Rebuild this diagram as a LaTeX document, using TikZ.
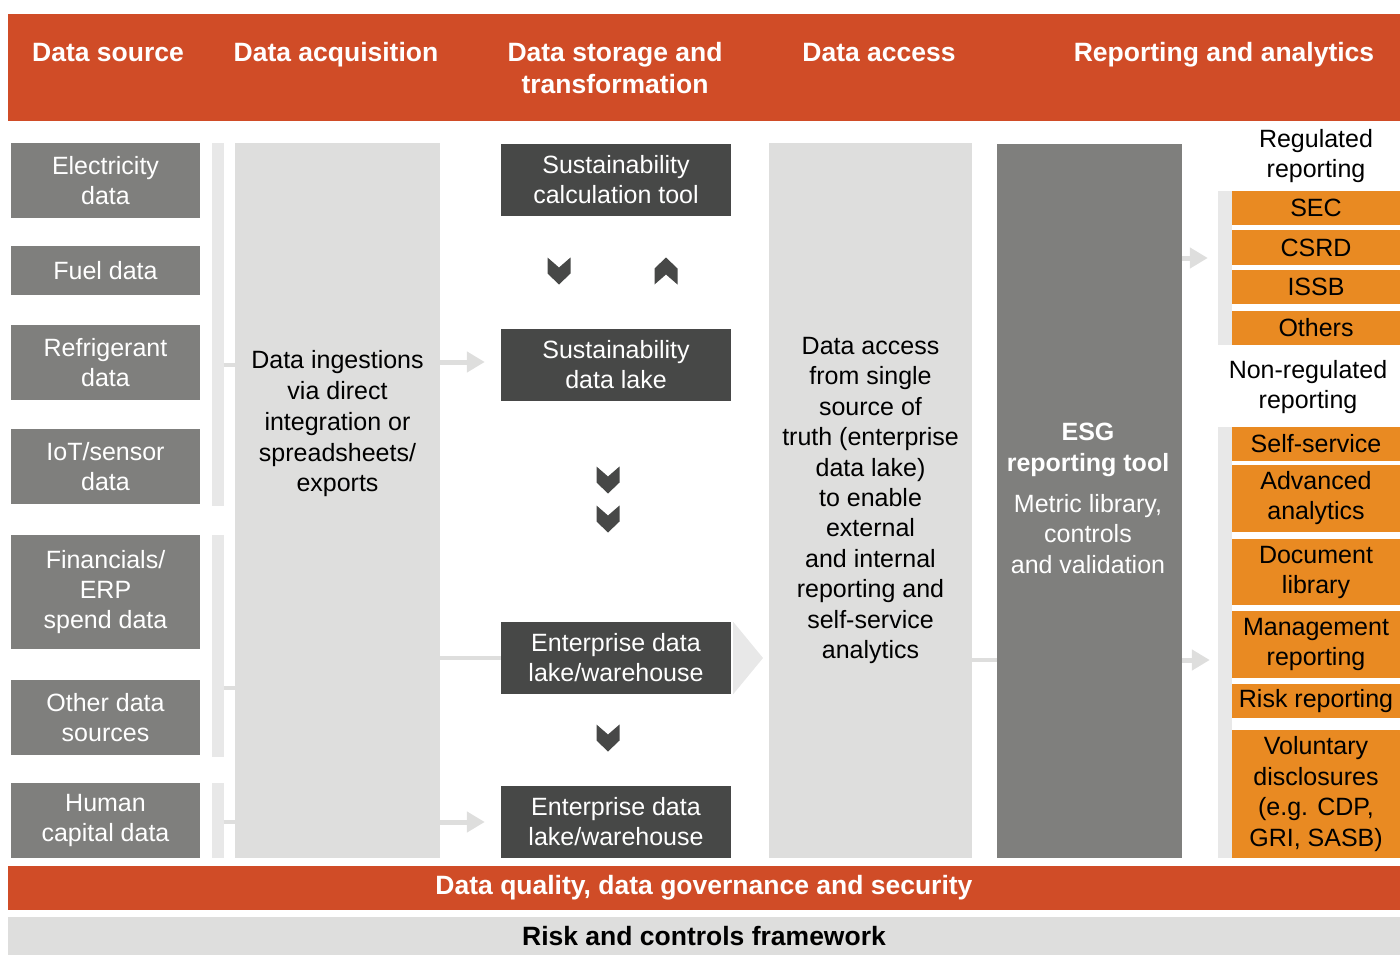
\documentclass[tikz,border=0pt]{standalone}
\usepackage{fontspec}
\setmainfont{Liberation Sans}
\usetikzlibrary{arrows.meta}

\definecolor{hdrred}{HTML}{D04C27}
\definecolor{srcgray}{HTML}{7F7F7D}
\definecolor{panelgray}{HTML}{DEDEDD}
\definecolor{darkbox}{HTML}{474847}
\definecolor{repor}{HTML}{E98A22}
\definecolor{barlight}{HTML}{E8E8E8}

\begin{document}
\begin{tikzpicture}[x=1pt, y=-1pt,
	every node/.style={inner sep=0pt, align=center, font=\fontsize{25}{30}\selectfont},
	head/.style={text=white, font=\fontsize{26.5}{32}\selectfont\bfseries},
	src/.style={fill=srcgray, text=white, minimum width=189pt},
	bar/.style={fill=barlight, minimum width=12pt},
	panel/.style={minimum height=715pt},
	store/.style={fill=darkbox, text=white, minimum width=230pt, minimum height=72pt},
	rep/.style={fill=repor, text=black, minimum width=168pt},
	link/.style={draw=panelgray, line width=4pt},
	arr/.style={draw=panelgray, line width=5pt, -{Triangle[length=18pt, width=20pt]}},
	chev/.style={fill=darkbox}]
	\useasboundingbox (0,0) rectangle (1400,955);

	% column heads
	\fill[hdrred] (8,14) rectangle (1400,121);
	\node[head, anchor=base] (hsrc) at (108,61.5) {Data source};
	\node[head, anchor=base] (hacq) at (336,61.5) {Data acquisition};
	\node[head] (hsto) at (615,68) {Data storage and\\transformation};
	\node[head, anchor=base] (hacc) at (879,61.5) {Data access};
	\node[head, anchor=base] (hrep) at (1224,61.5) {Reporting and analytics};

	% sources
	\node[src, minimum height=75pt] (elec) at (105.5,180.5) {Electricity\\data};
	\node[src, minimum height=49pt] (fuel) at (105.5,270.5) {Fuel data};
	\node[src, minimum height=75pt] (refr) at (105.5,362.5) {Refrigerant\\data};
	\node[src, minimum height=75pt] (iot) at (105.5,466.5) {IoT/sensor\\data};
	\node[src, minimum height=114pt] (fin) at (105.5,592) {Financials/\\ERP\\spend data};
	\node[src, minimum height=75pt] (oth) at (105.5,717.5) {Other data\\sources};
	\node[src, minimum height=75pt] (hum) at (105.5,820.5) {Human\\capital data};
	\node[bar, minimum height=363pt] (bar1) at (217.5,324.5) {};
	\node[bar, minimum height=222pt] (bar2) at (217.5,646) {};
	\node[bar, minimum height=75pt] (bar3) at (217.5,820.5) {};

	% acquisition
	\node[panel, fill=panelgray, minimum width=205pt] (acq) at (337.5,500.5) {};
	\node[font=\fontsize{25}{30.75}\selectfont] (acqtxt) at (337.5,424)
		{Data ingestions\\via direct\\integration or\\spreadsheets/\\exports};

	% storage and transformation
	\node[store] (calc) at (616,180) {Sustainability\\calculation tool};
	\node[store] (lake) at (616,365) {Sustainability\\data lake};
	\node[store] (ent1) at (616,658) {Enterprise data\\lake/warehouse};
	\node[store] (ent2) at (616,822) {Enterprise data\\lake/warehouse};
	\foreach \cx/\cy in {559/271, 608/480, 608/519, 608/738}
		\fill[chev, shift={(\cx,\cy)}] (-11.5,-13.5) -- (0,-3.5) -- (11.5,-13.5) -- (11.5,2.5) -- (0,13.5) -- (-11.5,2.5) -- cycle;
	\fill[chev, shift={(666,271)}, yscale=-1] (-11.5,-13.5) -- (0,-3.5) -- (11.5,-13.5) -- (11.5,2.5) -- (0,13.5) -- (-11.5,2.5) -- cycle;

	% access
	\node[panel, fill=panelgray, minimum width=203pt, font=\fontsize{25}{30.4}\selectfont] (access) at (870.5,500.5)
		{Data access\\from single\\source of\\truth (enterprise\\data lake)\\to enable\\external\\and internal\\reporting and\\self-service\\analytics};

	% ESG tool
	\node[panel, fill=srcgray, minimum width=185pt, minimum height=714pt] (esg) at (1089.5,501) {};
	\node[text=white, font=\fontsize{25}{30.5}\selectfont] (esgtxt) at (1088,498.5)
		{\textbf{ESG}\\\textbf{reporting tool}\\[10.5pt]Metric library,\\controls\\and validation};

	% reporting
	\node (regtxt) at (1316,156) {Regulated\\reporting};
	\node[bar, minimum width=14pt, minimum height=154pt] (regbar) at (1225,268) {};
	\node[rep, minimum height=34pt] (sec) at (1316,208) {SEC};
	\node[rep, minimum height=35pt] (csrd) at (1316,247.5) {CSRD};
	\node[rep, minimum height=34pt] (issb) at (1316,287) {ISSB};
	\node[rep, minimum height=34pt] (others) at (1316,328) {Others};
	\node (nrtxt) at (1308,387) {Non-regulated\\reporting};
	\node[bar, minimum width=14pt, minimum height=431pt] (nrbar) at (1225,642.5) {};
	\node[rep, minimum height=34pt] (self) at (1316,444) {Self-service};
	\node[rep, minimum height=67pt] (adv) at (1316,498.5) {Advanced\\analytics};
	\node[rep, minimum height=66pt] (doc) at (1316,572) {Document\\library};
	\node[rep, minimum height=67pt] (mgmt) at (1316,644.5) {Management\\reporting};
	\node[rep, minimum height=34pt] (risk) at (1316,701) {Risk reporting};
	\node[rep, minimum height=128pt, font=\fontsize{25}{30.7}\selectfont] (vol) at (1316,794) {Voluntary\\disclosures\\(e.g. CDP,\\GRI, SASB)};

	% connectors
	\draw[link] (bar1.east |- lake.west) -- (acq.west |- lake.west);
	\draw[link] (bar2.east |- 0,688) -- (acq.west |- 0,688);
	\draw[link] (bar3.east |- ent2.west) -- (acq.west |- ent2.west);
	\draw[arr, shorten >=16pt] (acq.east |- 0,362) -- (lake.west |- 0,362);
	\draw[link] (acq.east |- ent1.west) -- (ent1.west);
	\draw[arr, shorten >=16pt] (acq.east |- ent2.west) -- (ent2.west);
	\coordinate (tip) at (763,658);
	\fill[barlight] ([xshift=2pt]ent1.north east) -- ([xshift=2pt]ent1.south east) -- (tip) -- cycle;
	\draw[link] (access.east |- 0,660) -- (esg.west |- 0,660);
	\draw[arr, shorten >=10pt] (esg.east |- 0,258) -- (regbar.west |- 0,258);
	\draw[arr, shorten >=8pt] (esg.east |- 0,660) -- (nrbar.west |- 0,660);

	% bottom bands
	\node[fill=hdrred, text=white, minimum width=1392pt, minimum height=44pt, font=\fontsize{26.5}{32}\selectfont\bfseries] (dq) at (704,888) {Data quality, data governance and security};
	\node[fill=panelgray, minimum width=1392pt, minimum height=38pt, font=\fontsize{26.5}{32}\selectfont\bfseries] (rc) at (704,936) {Risk and controls framework};
\end{tikzpicture}
\end{document}
